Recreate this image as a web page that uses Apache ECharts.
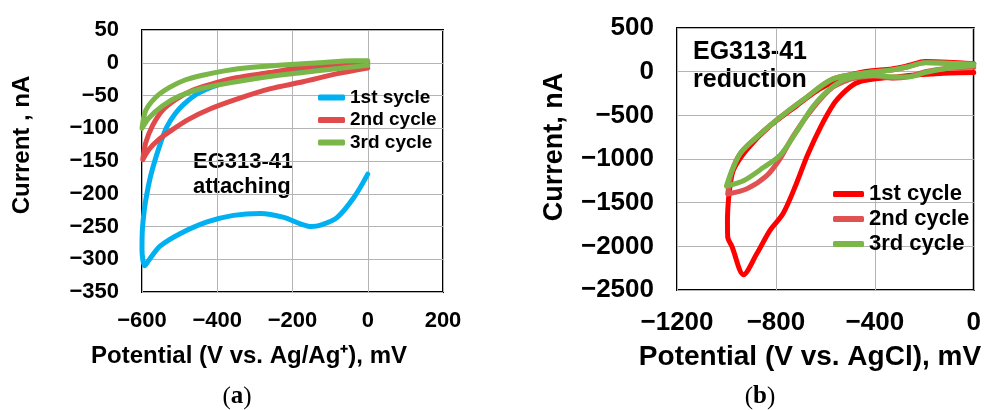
<!DOCTYPE html>
<html>
<head>
<meta charset="utf-8">
<script src="https://cdn.jsdelivr.net/npm/echarts@6/dist/echarts.min.js"></script>
<style>
html, body { margin: 0; padding: 0; background: #fff; }
#chart { width: 984px; height: 410px; }
</style>
</head>
<body>
<div id="chart"></div>
<script>
// (a) attaching, Potential mV vs Current nA
const leftNames = ['1st sycle', '2nd cycle', '3rd cycle'];
const leftCycle1 = [[0,-170],[-36,-205],[-81,-236],[-125,-248],[-150,-250],[-179,-246],[-223,-236],[-285,-230],[-357,-233],[-427,-243],[-499,-261],[-552,-280],[-580,-300],[-593,-310],[-600,-285],[-599,-255],[-594,-225],[-587,-200],[-578,-175],[-566,-150],[-551,-123],[-534,-98],[-512,-78],[-490,-64],[-460,-50],[-430,-41],[-400,-34],[-350,-26],[-300,-20],[-250,-15],[-200,-11],[-150,-8],[-100,-6],[-50,-4],[0,-3]];
const leftCycle2 = [[0,-8],[-84,-17],[-172,-29],[-261,-40],[-350,-56],[-421,-71],[-475,-86],[-519,-102],[-555,-117],[-581,-132],[-598,-148],[-590,-122],[-572,-96],[-546,-73],[-510,-56],[-466,-42],[-412,-32],[-350,-23],[-261,-15],[-172,-7],[-84,-2],[0,1]];
const leftCycle3 = [[0,-4],[-84,-9],[-172,-15],[-261,-21],[-350,-29],[-439,-39],[-501,-51],[-546,-66],[-581,-84],[-600,-100],[-590,-73],[-564,-53],[-528,-38],[-484,-26],[-439,-19],[-377,-12],[-306,-7],[-217,-3],[-128,0],[-39,3],[0,3]];

// (b) reduction
const rightNames = ['1st cycle', '2nd cycle', '3rd cycle'];
const rightCycle1 = [[0,-10],[-100,-15],[-171,-26],[-250,-40],[-304,-57],[-397,-80],[-450,-105],[-477,-133],[-500,-175],[-530,-250],[-565,-364],[-619,-632],[-673,-960],[-717,-1280],[-771,-1624],[-824,-1816],[-877,-2083],[-931,-2325],[-977,-2007],[-995,-1892],[-996,-1700],[-992,-1472],[-985,-1300],[-971,-1120],[-917,-890],[-824,-622],[-717,-392],[-624,-200],[-524,-62],[-437,2],[-331,32],[-264,70],[-197,115],[-104,108],[0,92]];
const rightCycle2 = [[0,50],[-104,40],[-197,0],[-264,-60],[-331,-75],[-400,-50],[-450,-60],[-504,-90],[-571,-180],[-651,-420],[-731,-740],[-784,-1000],[-837,-1190],[-917,-1340],[-995,-1400],[-990,-1300],[-977,-1127],[-944,-936],[-891,-783],[-797,-554],[-691,-325],[-571,-85],[-437,-12],[-331,20],[-264,58],[-197,105],[-104,97],[0,87]];
const rightCycle3 = [[0,70],[-104,40],[-197,-10],[-250,-55],[-320,-60],[-400,-45],[-504,-76],[-571,-172],[-651,-401],[-717,-690],[-784,-960],[-848,-1092],[-929,-1245],[-1000,-1310],[-990,-1220],[-977,-1127],[-944,-936],[-891,-783],[-797,-554],[-691,-325],[-571,-85],[-437,-12],[-331,19],[-264,57],[-197,103],[-104,96],[0,85]];

const leftColors = ['#00b0f0', '#e04a4a', '#7ab648'];
const rightColors = ['#ff0000', '#e05252', '#7ab648'];

const FONT = '"Liberation Sans", Arial, sans-serif';
const SERIF = '"Liberation Serif", serif';
const minus = v => (v < 0 ? '\u2212' + (-v) : String(v));

function lineSeries(name, data, color, idx) {
  return {
    name: name,
    type: 'line',
    xAxisIndex: idx,
    yAxisIndex: idx,
    data: data,
    smooth: 0.3,
    symbol: 'none',
    lineStyle: { color: color, width: 5, cap: 'round', join: 'round' },
    itemStyle: { color: color },
    animation: false
  };
}

function axisCommon(size, margin) {
  return {
    type: 'value',
    axisTick: { show: false },
    axisLine: { show: false },
    splitLine: { show: true, lineStyle: { color: '#b4b4b4', width: 1 } },
    axisLabel: { color: '#000', fontWeight: 'bold', fontSize: size, fontFamily: FONT, margin: margin, formatter: minus }
  };
}

const myChart = echarts.init(document.getElementById('chart'));
const opt = {
  backgroundColor: '#fff',
  textStyle: { fontFamily: FONT },
  grid: [
    { left: 142, top: 30, width: 301, height: 262, show: true, borderColor: '#000', borderWidth: 2, backgroundColor: '#fff' },
    { left: 677, top: 28, width: 299, height: 262, show: true, borderColor: '#000', borderWidth: 2, backgroundColor: '#fff' }
  ],
  xAxis: [
    Object.assign(axisCommon(22, 18), { gridIndex: 0, min: -600, max: 200, interval: 200 }),
    Object.assign(axisCommon(26, 20), { gridIndex: 1, min: -1200, max: 0, interval: 400 })
  ],
  yAxis: [
    Object.assign(axisCommon(22, 23), { gridIndex: 0, min: -350, max: 50, interval: 50 }),
    Object.assign(axisCommon(26, 23), { gridIndex: 1, min: -2500, max: 500, interval: 500 })
  ],
  legend: [
    {
      orient: 'vertical', left: 313, top: 83, itemWidth: 27, itemHeight: 6, itemGap: 3.5,
      icon: 'roundRect',
      textStyle: { fontSize: 19, fontWeight: 'bold', color: '#000', fontFamily: FONT },
      data: leftNames.map((n, i) => ({ name: n, itemStyle: { color: leftColors[i] } }))
    },
    {
      orient: 'vertical', left: 828, top: 178, itemWidth: 31, itemHeight: 6, itemGap: 3,
      icon: 'roundRect',
      textStyle: { fontSize: 22, fontWeight: 'bold', color: '#000', fontFamily: FONT },
      data: [
        { name: rightNames[0], itemStyle: { color: rightColors[0] } },
        { name: 'r2', itemStyle: { color: rightColors[1] } },
        { name: 'r3', itemStyle: { color: rightColors[2] } }
      ],
      formatter: n => (n === 'r2' ? rightNames[1] : n === 'r3' ? rightNames[2] : n)
    }
  ],
  series: [
    lineSeries(leftNames[0], leftCycle1, leftColors[0], 0),
    lineSeries(leftNames[1], leftCycle2, leftColors[1], 0),
    lineSeries(leftNames[2], leftCycle3, leftColors[2], 0),
    lineSeries(rightNames[0], rightCycle1, rightColors[0], 1),
    lineSeries('r2', rightCycle2, rightColors[1], 1),
    lineSeries('r3', rightCycle3, rightColors[2], 1)
  ],
  graphic: [
    { type: 'text', x: 22, y: 145, rotation: Math.PI / 2,
      style: { text: 'Current , nA', font: 'bold 24px ' + FONT, fill: '#000', align: 'center', verticalAlign: 'middle' } },
    { type: 'text', x: 249, y: 356,
      style: { text: 'Potential (V vs. Ag/Ag\u207A), mV', font: 'bold 24px ' + FONT, fill: '#000', align: 'center', verticalAlign: 'middle' } },
    { type: 'text', x: 193, y: 149,
      style: { text: 'EG313-41\nattaching', font: 'bold 22px ' + FONT, lineHeight: 25, fill: '#000', align: 'left', verticalAlign: 'top' } },
    { type: 'text', x: 237, y: 397,
      style: { text: '({b|a})', font: '25px ' + SERIF, fill: '#000', align: 'center', verticalAlign: 'middle',
        rich: { b: { fontWeight: 'bold', fontSize: 25, fontFamily: SERIF } } } },
    { type: 'text', x: 555, y: 147, rotation: Math.PI / 2,
      style: { text: 'Current, nA', font: 'bold 27px ' + FONT, fill: '#000', align: 'center', verticalAlign: 'middle' } },
    { type: 'text', x: 810, y: 357,
      style: { text: 'Potential (V vs. AgCl), mV', font: 'bold 28px ' + FONT, fill: '#000', align: 'center', verticalAlign: 'middle' } },
    { type: 'text', x: 693, y: 38,
      style: { text: 'EG313-41\nreduction', font: 'bold 25px ' + FONT, lineHeight: 28, fill: '#000', align: 'left', verticalAlign: 'top' } },
    { type: 'text', x: 760, y: 397,
      style: { text: '({b|b})', font: '25px ' + SERIF, fill: '#000', align: 'center', verticalAlign: 'middle',
        rich: { b: { fontWeight: 'bold', fontSize: 25, fontFamily: SERIF } } } }
  ]
};
myChart.setOption(opt);
</script>
</body>
</html>
